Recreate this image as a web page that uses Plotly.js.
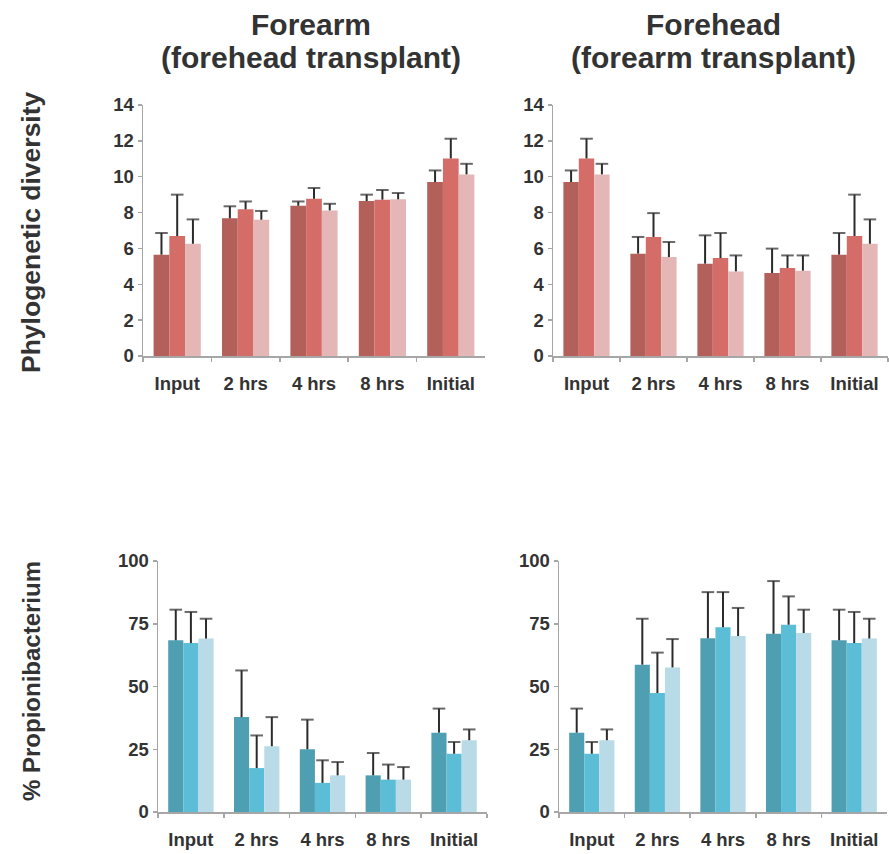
<!DOCTYPE html>
<html>
<head>
<meta charset="utf-8">
<script src="https://cdn.plot.ly/plotly-3.0.1.min.js"></script>
<style>html,body{margin:0;padding:0;background:#fff}#chart{width:889px;height:854px}</style>
</head>
<body>
<div id="chart"></div>
<script>
// ---- data ----
var categories = ["Input", "2 hrs", "4 hrs", "8 hrs", "Initial"];

// Phylogenetic diversity, Forearm (forehead transplant)
var pdForearmA = [5.65, 7.68, 8.38, 8.64, 9.70];
var pdForearmB = [6.69, 8.18, 8.77, 8.72, 11.02];
var pdForearmC = [6.26, 7.60, 8.12, 8.74, 10.13];
var pdForearmErrA = [1.21, 0.67, 0.24, 0.36, 0.65];
var pdForearmErrB = [2.31, 0.44, 0.60, 0.54, 1.10];
var pdForearmErrC = [1.36, 0.49, 0.37, 0.35, 0.59];

// Phylogenetic diversity, Forehead (forearm transplant)
var pdForeheadA = [9.70, 5.71, 5.15, 4.63, 5.65];
var pdForeheadB = [11.02, 6.64, 5.46, 4.91, 6.69];
var pdForeheadC = [10.13, 5.52, 4.72, 4.76, 6.26];
var pdForeheadErrA = [0.65, 0.93, 1.58, 1.36, 1.21];
var pdForeheadErrB = [1.10, 1.33, 1.40, 0.70, 2.31];
var pdForeheadErrC = [0.59, 0.84, 0.89, 0.85, 1.36];

// % Propionibacterium, Forearm (forehead transplant)
var propForearmA = [68.4, 37.8, 25.0, 14.6, 31.6];
var propForearmB = [67.3, 17.5, 11.6, 12.9, 23.2];
var propForearmC = [69.1, 26.2, 14.6, 12.9, 28.6];
var propForearmErrA = [12.2, 18.6, 11.8, 8.9, 9.6];
var propForearmErrB = [12.4, 13.0, 9.0, 6.0, 4.7];
var propForearmErrC = [7.9, 11.6, 5.3, 5.0, 4.3];

// % Propionibacterium, Forehead (forearm transplant)
var propForeheadA = [31.6, 58.7, 69.2, 71.0, 68.4];
var propForeheadB = [23.2, 47.4, 73.6, 74.6, 67.3];
var propForeheadC = [28.6, 57.6, 70.1, 71.3, 69.1];
var propForeheadErrA = [9.6, 18.3, 18.4, 21.0, 12.2];
var propForeheadErrB = [4.7, 16.1, 14.0, 11.3, 12.4];
var propForeheadErrC = [4.3, 11.3, 11.2, 9.3, 7.9];

var redColors = ["#b35f5a", "#d46c68", "#e4b7b6"];
var blueColors = ["#4f9fb3", "#5bbdd6", "#b8dbe7"];

// ---- build ----
var W = 889, H = 854;
function px(x){ return x / W; }
function py(y){ return 1 - y / H; }

var barTraces = [];
var errTraces = [];
var groups = ["a", "b", "c"];
function addPanel(series, errs, colors, xa, ya){
  for (var i = 0; i < 3; i++){
    barTraces.push({
      type: "bar",
      x: categories,
      y: series[i],
      xaxis: xa, yaxis: ya,
      offsetgroup: groups[i],
      marker: {color: colors[i], line: {width: 0}},
      showlegend: false,
      hoverinfo: "x+y"
    });
    // upward-only error whisker (line from bar top to top of error, cap at top only)
    var ex = [], ey = [], es = [];
    for (var k = 0; k < categories.length; k++){
      ex.push(categories[k], categories[k], categories[k]);
      ey.push(series[i][k], series[i][k] + errs[i][k], null);
      es.push(0, 9, 0);
    }
    errTraces.push({
      type: "scatter", mode: "lines+markers",
      x: ex, y: ey,
      xaxis: xa, yaxis: ya,
      offsetgroup: groups[i],
      line: {color: "#2b2b2b", width: 2},
      marker: {symbol: "line-ew", size: es, color: "#2b2b2b", line: {color: "#2b2b2b", width: 2}},
      connectgaps: false,
      showlegend: false,
      hoverinfo: "skip",
      cliponaxis: false
    });
  }
}
addPanel([pdForearmA, pdForearmB, pdForearmC], [pdForearmErrA, pdForearmErrB, pdForearmErrC], redColors, "x", "y");
addPanel([pdForeheadA, pdForeheadB, pdForeheadC], [pdForeheadErrA, pdForeheadErrB, pdForeheadErrC], redColors, "x2", "y2");
addPanel([propForearmA, propForearmB, propForearmC], [propForearmErrA, propForearmErrB, propForearmErrC], blueColors, "x3", "y3");
addPanel([propForeheadA, propForeheadB, propForeheadC], [propForeheadErrA, propForeheadErrB, propForeheadErrC], blueColors, "x4", "y4");

var traces = barTraces.concat(errTraces);

var fam = "Liberation Sans, Arial, Helvetica, sans-serif";
var tickFont = {family: fam, size: 18.5, color: "#333333", weight: "bold"};
function xAxis(d0, d1, anchor){
  return {domain: [px(d0), px(d1)], anchor: anchor, type: "category",
    showline: true, linecolor: "#a6a6a6", linewidth: 1.5,
    ticks: "outside", tickson: "boundaries", ticklen: 4, tickcolor: "#a6a6a6", tickwidth: 1.5,
    ticklabelstandoff: 10,
    showgrid: false, zeroline: false, tickfont: tickFont, fixedrange: true};
}
function yAxis(d0, d1, anchor, range, dtick){
  return {domain: [py(d1), py(d0)], anchor: anchor, range: range, dtick: dtick,
    showline: true, linecolor: "#a6a6a6", linewidth: 1.5,
    ticks: "outside", ticklen: 4, tickcolor: "#a6a6a6", tickwidth: 1.5,
    showgrid: false, zeroline: false, tickfont: tickFont, fixedrange: true};
}

var titleFont = {family: fam, size: 30, color: "#333333", weight: "bold"};
var axTitleFont1 = {family: fam, size: 26.5, color: "#333333", weight: "bold"};
var axTitleFont2 = {family: fam, size: 24, color: "#333333", weight: "bold"};

var layout = {
  width: W, height: H,
  margin: {l: 0, r: 0, t: 0, b: 0},
  paper_bgcolor: "#ffffff", plot_bgcolor: "#ffffff",
  barmode: "group", bargap: 0.31, bargroupgap: 0,
  scattermode: "group", scattergap: 0.31,
  xaxis: xAxis(143, 485, "y"),
  yaxis: yAxis(105, 356, "x", [0, 14], 2),
  xaxis2: xAxis(553, 888, "y2"),
  yaxis2: yAxis(105, 356, "x2", [0, 14], 2),
  xaxis3: xAxis(158, 487, "y3"),
  yaxis3: yAxis(561, 812, "x3", [0, 100], 25),
  xaxis4: xAxis(559, 887, "y4"),
  yaxis4: yAxis(561, 812, "x4", [0, 100], 25),
  annotations: [
    {text: "Forearm", x: px(311), y: py(24), xref: "paper", yref: "paper", showarrow: false, font: titleFont, xanchor: "center", yanchor: "middle"},
    {text: "(forehead transplant)", x: px(311), y: py(58), xref: "paper", yref: "paper", showarrow: false, font: titleFont, xanchor: "center", yanchor: "middle"},
    {text: "Forehead", x: px(713), y: py(24), xref: "paper", yref: "paper", showarrow: false, font: titleFont, xanchor: "center", yanchor: "middle"},
    {text: "(forearm transplant)", x: px(713), y: py(58), xref: "paper", yref: "paper", showarrow: false, font: titleFont, xanchor: "center", yanchor: "middle"},
    {text: "Phylogenetic diversity", x: px(31), y: py(232), xref: "paper", yref: "paper", showarrow: false, font: axTitleFont1, textangle: -90, xanchor: "center", yanchor: "middle"},
    {text: "% Propionibacterium", x: px(31), y: py(681), xref: "paper", yref: "paper", showarrow: false, font: axTitleFont2, textangle: -90, xanchor: "center", yanchor: "middle"}
  ]
};

Plotly.newPlot("chart", traces, layout, {displayModeBar: false, staticPlot: true});
</script>
</body>
</html>
